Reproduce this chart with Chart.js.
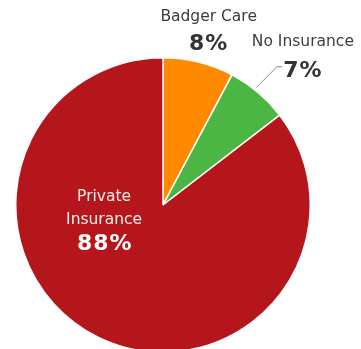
<!DOCTYPE html>
<html>
<head>
  <title>Insurance Coverage</title>
<script src="https://cdn.jsdelivr.net/npm/chart.js"></script>
</head>
<style>
html, body {
  margin: 0;
  padding: 0;
  background: #ffffff;
  overflow: hidden;
}

/* a little taller than the window so the bottom of the pie runs off the edge */
#chart-container {
  width: 361px;
  height: 353px;
}
</style>
<body>
<div id="chart-container">
  <canvas id="chart"></canvas>
</div>
</body>
<script>
const categories = ['Badger Care', 'No Insurance', 'Private Insurance'];
const shares = [8, 7, 88];
const sliceColors = ['#ff8a00', '#4cb644', '#b5161b'];

// Where each slice's text goes, in units of the pie radius from its centre
const labelSpots = [
  { name: ['Badger Care'], nameAt: [0.31, -1.28], pctAt: [0.31, -1.09], inside: false },
  { name: ['No Insurance'], nameAt: [0.95, -1.11], pctAt: [0.95, -0.905], inside: false, leader: true },
  { name: ['Private', 'Insurance'], nameAt: [-0.40, -0.055], pctAt: [-0.395, 0.27], inside: true }
];

const sliceLabels = {
  id: 'sliceLabels',
  afterDatasetsDraw(chart) {
    const ctx = chart.ctx;
    const arcs = chart.getDatasetMeta(0).data;
    ctx.save();
    ctx.textAlign = 'center';
    ctx.textBaseline = 'middle';
    arcs.forEach((arc, i) => {
      const spot = labelSpots[i];
      const r = arc.outerRadius;
      const cx = arc.x, cy = arc.y;

      if (spot.leader) {
        const mid = (arc.startAngle + arc.endAngle) / 2 - 0.03;
        const sx = cx + Math.cos(mid) * r * 1.02;
        const sy = cy + Math.sin(mid) * r * 1.02;
        const px = cx + spot.pctAt[0] * r - 26;
        const py = cy + spot.pctAt[1] * r - 5;
        ctx.strokeStyle = '#8a8a8a';
        ctx.lineWidth = 1;
        ctx.beginPath();
        ctx.moveTo(sx, sy);
        ctx.lineTo(px, py);
        ctx.lineTo(px + 5, py);
        ctx.stroke();
      }

      ctx.fillStyle = spot.inside ? '#fbeee8' : '#3c3c3c';
      ctx.font = '15.5px "DejaVu Sans", sans-serif';
      spot.name.forEach((line, k) => {
        ctx.fillText(line, cx + spot.nameAt[0] * r, cy + spot.nameAt[1] * r + k * 23);
      });

      ctx.fillStyle = spot.inside ? '#ffffff' : '#333333';
      ctx.font = 'bold 22px "DejaVu Sans", sans-serif';
      ctx.letterSpacing = '1px';
      ctx.fillText(shares[i] + '%', cx + spot.pctAt[0] * r, cy + spot.pctAt[1] * r);
      ctx.letterSpacing = '0px';
    });
    ctx.restore();
  }
};

const chartEl = document.getElementById('chart');
const chart = new Chart(chartEl, {
  type: 'pie',
  data: {
    labels: categories,
    datasets: [{
      data: shares,
      backgroundColor: sliceColors,
      borderColor: '#ffffff',
      borderWidth: 1.5
    }]
  },
  options: {
    responsive: true,
    maintainAspectRatio: false,
    animation: false,
    layout: {
      padding: { top: 57, bottom: 0, left: 15, right: 50 }
    },
    plugins: {
      legend: { display: false },
      tooltip: { enabled: false }
    }
  },
  plugins: [sliceLabels]
});
</script>
</html>
